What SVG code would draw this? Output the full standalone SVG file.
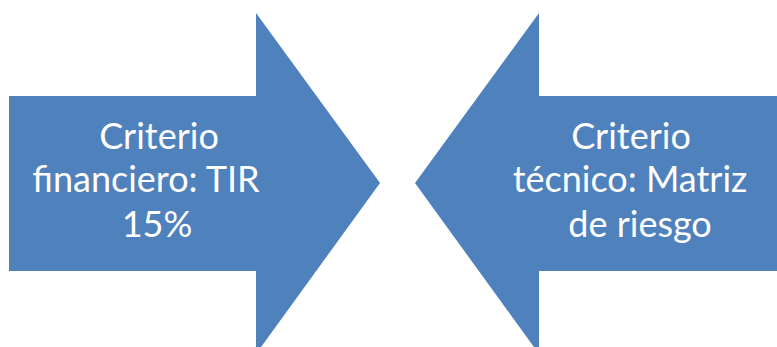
<svg xmlns="http://www.w3.org/2000/svg" width="777" height="347" viewBox="0 0 777 347">
  <style>
    .arrow { fill: #4F81BD; }
    .label { fill: #FFFFFF; font-family: Lato, "Open Sans", "Liberation Sans", sans-serif; font-size: 36px; text-anchor: middle; }
  </style>
  <rect width="777" height="347" fill="#FFFFFF"/>
  <!-- Right-pointing arrow: financial criterion -->
  <g id="criterio-financiero">
    <polygon class="arrow" points="9,96 256,96 256,13 380,183 256,354 256,271 9,271"/>
    <text class="label" x="159" y="149">Criterio</text>
    <text class="label" x="146" y="192">financiero: TIR</text>
    <text class="label" x="157" y="237">15%</text>
  </g>
  <!-- Left-pointing arrow: technical criterion -->
  <g id="criterio-tecnico">
    <polygon class="arrow" points="786,96 539,96 539,13 415,183 539,354 539,271 786,271"/>
    <text class="label" x="631" y="149">Criterio</text>
    <text class="label" x="630" y="192">técnico: Matriz</text>
    <text class="label" x="640" y="237">de riesgo</text>
  </g>
  <g id="connectors"/>
</svg>
